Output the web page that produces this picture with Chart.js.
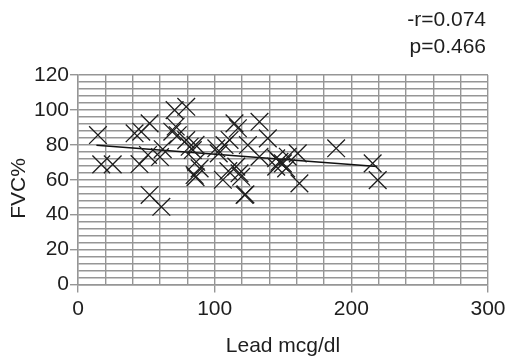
<!DOCTYPE html>
<html>
<head>
<meta charset="utf-8">
<script src="https://cdn.jsdelivr.net/npm/chart.js@4/dist/chart.umd.min.js"></script>
<style>
  html, body { margin: 0; padding: 0; background: #fff; }
  #wrap { width: 510px; height: 360px; }
</style>
</head>
<body>
<div id="wrap"><canvas id="c" width="510" height="360"></canvas></div>
<script>
// lead (mcg/dl) vs FVC%
const lead = [14.6, 17, 25.4, 41.4, 46.3, 52.4, 45, 51.2, 52.4, 61, 62, 60,
  70.7, 79.2, 69, 71.5, 73, 79.2, 81.7, 84, 86, 86.5, 89, 85.3, 86,
  101.2, 107.2, 110.9, 106, 114.5, 117, 118.2, 119.4, 121.9, 122.5, 124.3, 132.8, 138.9,
  132.8, 145, 149.9, 145, 147.4, 153.5, 160.8, 152.3, 162, 103, 115.8, 110,
  188.9, 215.6, 219.3];
const fvc = [85.6, 68.8, 68.8, 86.6, 87.5, 92.3, 69, 74.2, 51.3, 44.5, 77.5, 73,
  99.9, 101.8, 87.5, 90.5, 85.5, 82.7, 78.9, 77, 80, 70.3, 66.5, 62.7, 61.5,
  78, 79.9, 82.8, 60, 92.3, 89.5, 63.7, 61.7, 51.3, 51.6, 79.9, 93.2, 83.7,
  73.2, 72.3, 69.4, 67.5, 70.3, 73.2, 75.1, 66.5, 57.9, 75.1, 67.5, 65,
  78, 69.4, 59.8];

// fitted line ends
const fitX = [13.5, 219];
const fitY = [79.8, 67.6];

const xLabels = [0, 100, 200, 300];
const yLabels = [0, 20, 40, 60, 80, 100, 120];
const statsText = ['-r=0.074', 'p=0.466'];

const FONT = 'Liberation Sans, Arial, sans-serif';
const GRID = '#969696';
const INK = '#1e1e1e';

const statsLabel = {
  id: 'statsLabel',
  afterDraw(chart) {
    const ctx = chart.ctx;
    ctx.save();
    ctx.font = '21px ' + FONT;
    ctx.fillStyle = INK;
    ctx.textAlign = 'right';
    ctx.textBaseline = 'middle';
    ctx.fillText(statsText[0], 486, 20);
    ctx.fillText(statsText[1], 486, 47);
    ctx.restore();
  }
};

new Chart(document.getElementById('c'), {
  type: 'scatter',
  data: {
    datasets: [
      {
        data: lead.map((x, i) => ({ x, y: fvc[i] })),
        pointStyle: 'crossRot',
        pointRadius: 12.5,
        borderColor: INK,
        borderWidth: 1.3,
        backgroundColor: 'transparent'
      },
      {
        type: 'line',
        data: fitX.map((x, i) => ({ x, y: fitY[i] })),
        borderColor: '#111',
        borderWidth: 1.4,
        pointRadius: 0,
        fill: false
      }
    ]
  },
  options: {
    responsive: false,
    animation: false,
    layout: { padding: { top: 75, right: 22, left: 0, bottom: 0 } },
    plugins: { legend: { display: false }, tooltip: { enabled: false } },
    scales: {
      x: {
        type: 'linear', min: 0, max: 300,
        afterFit: s => { s.height = 75.5; },
        ticks: {
          stepSize: 20, autoSkip: false, maxRotation: 0, padding: 4,
          color: INK, font: { family: FONT, size: 21 },
          callback: v => xLabels.includes(v) ? v : ''
        },
        grid: {
          color: GRID, lineWidth: 1.4, tickLength: 8,
          tickColor: c => xLabels.includes(c.tick && c.tick.value) ? GRID : 'transparent'
        },
        border: { color: GRID, width: 1.4 },
        title: { display: true, text: 'Lead mcg/dl', color: INK, font: { family: FONT, size: 21 }, padding: { top: 0, bottom: 1 } }
      },
      y: {
        min: 0, max: 120,
        afterFit: s => { s.width = 78; },
        ticks: {
          stepSize: 4, autoSkip: false, padding: 1,
          color: INK, font: { family: FONT, size: 21 },
          callback: v => yLabels.includes(v) ? v : ''
        },
        grid: {
          color: GRID, lineWidth: 1.4, tickLength: 8,
          tickColor: c => yLabels.includes(c.tick && c.tick.value) ? GRID : 'transparent'
        },
        border: { color: GRID, width: 1.4 },
        // trailing spaces nudge the rotated title a little lower, as in the source
        title: { display: true, text: 'FVC%   ', color: INK, font: { family: FONT, size: 21 }, padding: { top: 7, bottom: 0 } }
      }
    }
  },
  plugins: [statsLabel]
});
</script>
</body>
</html>
